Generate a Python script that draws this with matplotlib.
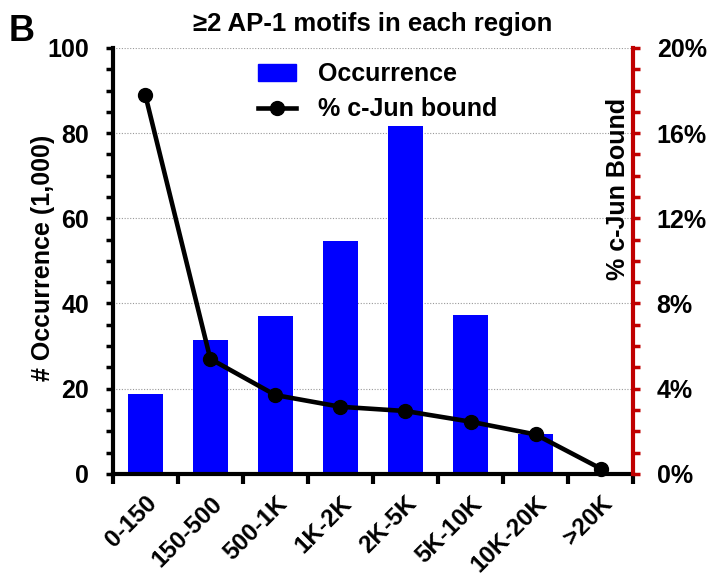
import numpy as np
import matplotlib
matplotlib.use("Agg")
import matplotlib.pyplot as plt
from matplotlib.lines import Line2D
from matplotlib.patches import Patch

plt.rcParams['font.family'] = ['Liberation Sans', 'DejaVu Sans']
plt.rcParams['font.weight'] = 'bold'

categories = ["0-150", "150-500", "500-1K", "1K-2K", "2K-5K", "5K-10K", "10K-20K", ">20K"]
occurrence = [18.8, 31.4, 37.0, 54.6, 81.7, 37.4, 9.4, 0.3]       # thousands
cjun_bound = [17.8, 5.4, 3.7, 3.15, 2.95, 2.45, 1.85, 0.25]        # percent

red = "#C00000"
x = np.arange(len(categories))

fig = plt.figure(figsize=(7.09, 5.85), dpi=100)
ax = fig.add_axes([0.159, 0.19, 0.734, 0.728])
ax2 = ax.twinx()

ax.bar(x, occurrence, width=0.54, color="#0000FF", zorder=2)
ax.set_xlim(-0.5, len(categories) - 0.5)
ax.set_ylim(0, 100)
ax.set_yticks(np.arange(0, 101, 20))
ax.set_yticks(np.arange(0, 101, 5), minor=True)
ax.yaxis.grid(True, which='major', linestyle=(0, (1, 1.5)), color="#999999", linewidth=0.8, zorder=0)
ax.set_axisbelow(True)

# category labels at centres, ticks on boundaries
ax.set_xticks(x)
ax.set_xticklabels(categories, rotation=45, ha='right', rotation_mode='anchor', fontsize=17.5, fontweight='bold')
ax.set_xticks(np.arange(-0.5, len(categories)), minor=True)
ax.tick_params(axis='x', which='major', length=0, pad=13)
ax.tick_params(axis='x', which='minor', length=7, width=3, color='black', direction='out')
ax.tick_params(axis='y', which='major', length=5, width=2.5, labelsize=18, pad=12)
ax.tick_params(axis='y', which='minor', length=5, width=2.5)

for s in ['top', 'right']:
    ax.spines[s].set_visible(False)
ax.spines['left'].set_linewidth(3)
ax.spines['bottom'].set_linewidth(3)

ax.set_ylabel("# Occurrence (1,000)", fontsize=18, fontweight='bold')
ax.yaxis.set_label_coords(-0.11, 0.507)

ax2.plot(x, cjun_bound, color='black', linewidth=3.3, marker='o', markersize=10, zorder=3, clip_on=False)
ax2.set_ylim(0, 20)
ax2.set_yticks(np.arange(0, 21, 4))
ax2.set_yticklabels([f"{v}%" for v in range(0, 21, 4)])
ax2.set_yticks(np.arange(0, 21, 1), minor=True)
ax2.tick_params(axis='y', which='both', colors=red, labelcolor='black', length=5, width=2.5)
ax2.tick_params(axis='y', which='major', labelsize=18, pad=12)
for s in ['top', 'left', 'bottom']:
    ax2.spines[s].set_visible(False)
ax2.spines['right'].set_color(red)
ax2.spines['right'].set_linewidth(3)
ax2.text(0.97, 0.67, "% c-Jun Bound", rotation=90, ha='center', va='center',
         fontsize=18, fontweight='bold', transform=ax2.transAxes)

handles = [Patch(facecolor="#0000FF", edgecolor="#0000FF"),
           Line2D([0], [0], color='black', linewidth=3.3, marker='o', markersize=10)]
ax2.legend(handles, ["Occurrence", "% c-Jun bound"], loc='upper left', bbox_to_anchor=(0.26, 0.99),
           borderaxespad=0, frameon=False, prop={'size': 18, 'weight': 'bold'},
           handlelength=1.5, handletextpad=0.9, labelspacing=0.45)

ax.set_title("≥2 AP-1 motifs in each region", fontsize=18.5, fontweight='bold', pad=12)
fig.text(0.012, 0.93, "B", fontsize=26, fontweight='bold')

fig.savefig("out.png", dpi=100)
